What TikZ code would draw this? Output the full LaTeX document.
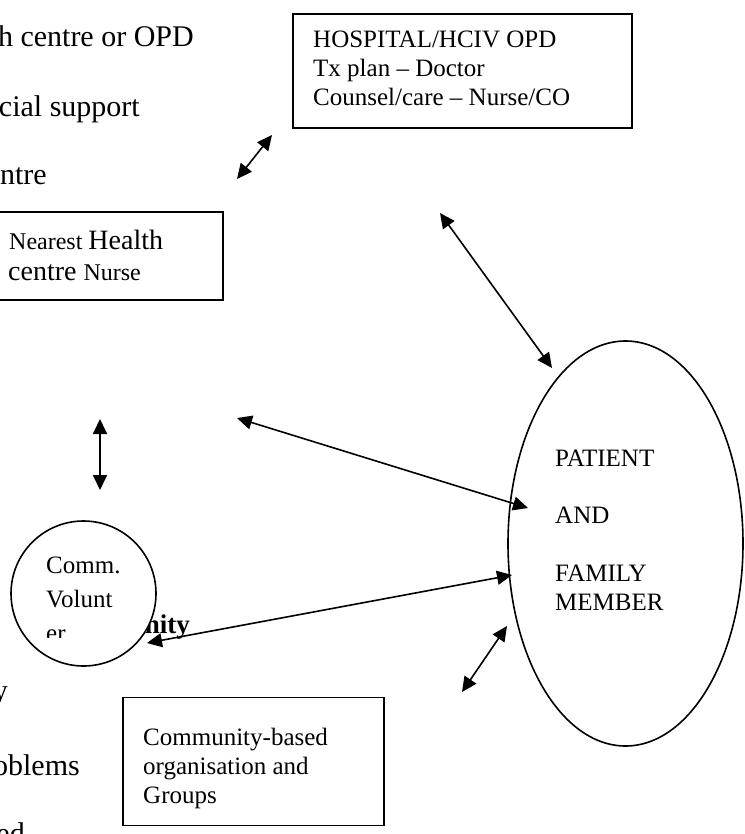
\documentclass[tikz,border=0pt]{standalone}
\usepackage{fontspec}
\setmainfont{Liberation Serif}
\usetikzlibrary{arrows.meta,shapes.geometric}
\begin{document}
\begin{tikzpicture}[x=1pt,y=-1pt,
  txt/.style={anchor=base west, inner sep=0pt, font=\fontsize{25}{30}\selectfont},
  bigtxt/.style={anchor=base east, inner sep=0pt, font=\fontsize{30}{36}\selectfont},
  boxstyle/.style={draw, line width=1.8pt, inner sep=0pt},
  twohead/.style={{Triangle[length=15pt,width=14pt]}-{Triangle[length=15pt,width=14pt]}, line width=1.6pt},
  bighead/.style={{Triangle[length=15pt,width=14pt]}-{Triangle[length=15pt,width=14pt]}, line width=1.8pt}]
\useasboundingbox (0,0) rectangle (744,834);
\clip (0,0) rectangle (744,834);
% partly hidden running text at the left
\node[bigtxt] (l1) at (194,47) {h centre or OPD};
\node[bigtxt] (l2) at (140,117) {cial support};
\node[bigtxt] (l3) at (47,185) {ntre};
\node[bigtxt] (l4) at (8,700) {y};
\node[bigtxt] (l5) at (80,775) {oblems};
\node[bigtxt] (l6) at (25,843) {ed};
\node[anchor=base east, inner sep=0pt, font=\fontsize{27}{32}\selectfont\bfseries] (comm) at (190,633) {nity};
% hospital box
\node[boxstyle, minimum width=339pt, minimum height=114pt] (hosp) at (462.5,71) {};
\node[txt] (h1) at (313,48) {HOSPITAL/HCIV OPD};
\node[txt] (h2) at (313,77) {Tx plan -- Doctor};
\node[txt] (h3) at (313,106) {Counsel/care -- Nurse/CO};
% nearest health centre box
\node[boxstyle, minimum width=233pt, minimum height=88pt] (near) at (106.5,256) {};
\node[anchor=base west, inner sep=0pt] (n1) at (9,249) {\fontsize{24}{28}\selectfont Nearest \fontsize{28}{32}\selectfont Health};
\node[anchor=base west, inner sep=0pt] (n2) at (8,280) {\fontsize{28}{32}\selectfont centre \fontsize{24}{28}\selectfont Nurse};
% community volunteer circle
\node[circle, draw, fill=white, line width=1.6pt, minimum size=145pt, inner sep=0pt] (vol) at (83.5,593.5) {};
\node[txt] (v1) at (46,573) {Comm.};
\node[txt] (v2) at (46,607) {Volunt};
\begin{scope}
\clip (40,610) rectangle (130,637);
\node[txt] (v3) at (46,641) {er};
\end{scope}
% patient ellipse
\node[ellipse, draw, line width=1.6pt, minimum width=235pt, minimum height=405pt, inner sep=0pt] (pat) at (625.5,543.5) {};
\node[txt] (p1) at (555,466) {PATIENT};
\node[txt] (p2) at (555,523) {AND};
\node[txt] (p3) at (555,581) {FAMILY};
\node[txt] (p4) at (555,610) {MEMBER};
% community-based organisation box
\node[boxstyle, minimum width=261pt, minimum height=128pt] (cbo) at (253.5,761.5) {};
\node[txt] (c1) at (143,745) {Community-based};
\node[txt] (c2) at (143,774) {organisation and};
\node[txt] (c3) at (143,803) {Groups};
% arrow end points
\coordinate (a1s) at (237,179); \coordinate (a1e) at (272,135);
\coordinate (a2s) at (440,213); \coordinate (a2e) at (552,368);
\coordinate (a3s) at (237,418); \coordinate (a3e) at (528,508);
\coordinate (a4s) at (100,419); \coordinate (a4e) at (100,490);
\coordinate (a5s) at (147,643); \coordinate (a5e) at (512,575);
\coordinate (a6s) at (462,692); \coordinate (a6e) at (507,626);
\draw[twohead] (a1s) -- (a1e);
\draw[twohead] (a2s) -- (a2e);
\draw[twohead] (a3s) -- (a3e);
\draw[bighead] (a4s) -- (a4e);
\draw[twohead] (a5s) -- (a5e);
\draw[twohead] (a6s) -- (a6e);
\end{tikzpicture}
\end{document}
